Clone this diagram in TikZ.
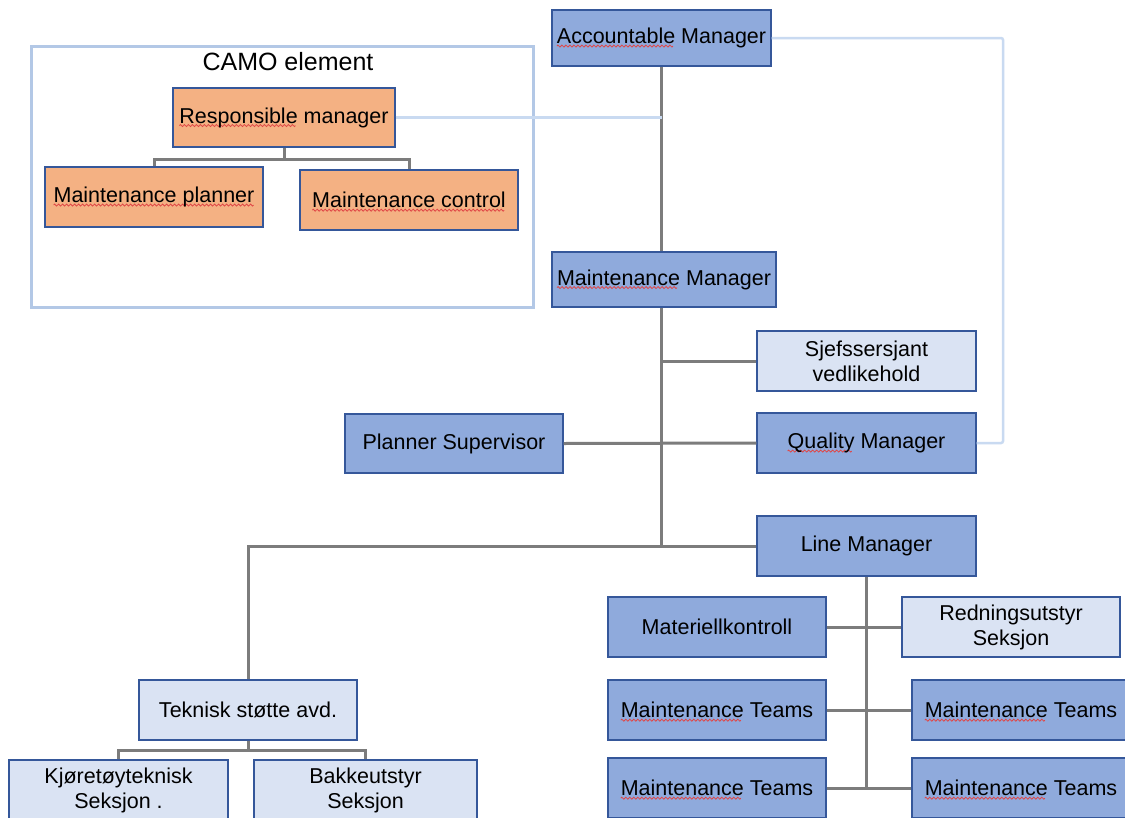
\documentclass[tikz,border=0pt]{standalone}
\usepackage{fontspec}
\setmainfont{Liberation Sans}
\usetikzlibrary{calc}

\definecolor{boxblue}{HTML}{8FAADC}
\definecolor{boxlight}{HTML}{DAE3F3}
\definecolor{boxorange}{HTML}{F4B183}
\definecolor{boxedge}{HTML}{35579A}
\definecolor{linkgray}{HTML}{7C7C7C}
\definecolor{linklight}{HTML}{C9DAF1}
\definecolor{camoedge}{HTML}{B3C8E6}
\definecolor{squigred}{HTML}{E04646}

% wavy spell-check underline
\newsavebox\wavebox
\newsavebox\wordbox
\newcommand\squig[1]{\sbox\wordbox{#1}\rlap{\raisebox{-3.5pt}[0pt][0pt]{\hbox to \wd\wordbox{\leaders\hbox{\usebox\wavebox}\hfill}}}\usebox\wordbox}

\begin{document}
\sbox\wavebox{\begin{pgfpicture}
  \pgfpathrectangle{\pgfpoint{0pt}{-1pt}}{\pgfpoint{4pt}{2pt}}
  \pgfusepath{use as bounding box}
  \pgfsetlinewidth{0.8pt}
  \pgfsetstrokecolor{squigred}
  \pgfpathmoveto{\pgfpoint{0pt}{0pt}}
  \pgfpathsine{\pgfpoint{1pt}{1pt}}
  \pgfpathcosine{\pgfpoint{1pt}{-1pt}}
  \pgfpathsine{\pgfpoint{1pt}{-1pt}}
  \pgfpathcosine{\pgfpoint{1pt}{1pt}}
  \pgfusepath{stroke}
\end{pgfpicture}}
\begin{tikzpicture}[x=1pt,y=-1pt,
  box/.style={rectangle, draw=boxedge, line width=1.3pt, inner sep=0pt, align=center,
    minimum width=218pt, minimum height=60pt, font=\fontsize{21.5}{25}\selectfont},
  darkbox/.style={box, fill=boxblue},
  lightbox/.style={box, fill=boxlight},
  camobox/.style={box, fill=boxorange},
  link/.style={draw=linkgray, line width=3pt},
  soft/.style={draw=linklight, line width=2.5pt}]
\useasboundingbox (0,0) rectangle (1125,817);
\clip (0,0) rectangle (1125,817);
\fill[white] (0,0) rectangle (1125,817);

% CAMO frame
\node[draw=camoedge, line width=3pt, minimum width=502pt, minimum height=261pt, inner sep=0pt] (camo) at (282,176.5) {};
\node[font=\fontsize{25}{28}\selectfont, inner sep=0pt] (camotitle) at (288,62) {CAMO element};

% boxes
\node[darkbox, minimum width=219pt, minimum height=56pt] (AM) at (661.5,38) {\squig{Accountable} Manager};
\node[darkbox, minimum width=224pt, minimum height=55pt] (MM) at (664,279.5) {\squig{Maintenance} Manager};
\node[camobox, minimum width=222pt, minimum height=59pt] (RM) at (284,117.5) {\squig{Responsible} manager};
\node[camobox] (MP) at (154,197) {\squig{Maintenance planner}};
\node[camobox] (MC) at (409,200) {\squig{Maintenance control}};
\node[lightbox, minimum width=219pt] (Sjef) at (866.5,361) {Sjefssersjant\\vedlikehold};
\node[darkbox, minimum width=219pt] (QM) at (866.5,443) {\squig{Quality} Manager};
\node[darkbox, minimum height=59pt] (PS) at (454,443.5) {Planner Supervisor};
\node[darkbox, minimum width=219pt] (LM) at (866.5,546) {Line Manager};
\node[darkbox] (Mat) at (717,627) {Materiellkontroll};
\node[lightbox] (Red) at (1011,627) {Redningsutstyr\\Seksjon};
\node[darkbox] (MT1L) at (717,710) {\squig{Maintenance} Teams};
\node[darkbox] (MT1R) at (1021,710) {\squig{Maintenance} Teams};
\node[darkbox] (MT2L) at (717,788) {\squig{Maintenance} Teams};
\node[darkbox] (MT2R) at (1021,788) {\squig{Maintenance} Teams};
\node[lightbox] (Tek) at (248,710) {Teknisk støtte avd.};
\node[lightbox, minimum width=219pt] (Kjo) at (118.5,790) {Kjøretøyteknisk\\Seksjon .};
\node[lightbox, minimum width=223pt] (Bak) at (365.5,790) {Bakkeutstyr\\Seksjon};

% main reporting lines
\draw[link] (AM.south) -- (AM.south |- MM.north);
\draw[link] (AM.south |- MM.south) -- (AM.south |- LM.west);
\draw[link] (LM.west) -| (Tek.north);
\draw[link] (Sjef.west) -- (Sjef.west -| AM.south);
\draw[link] (PS.east) -- (QM.west);

% CAMO tree
\coordinate (rmbus) at (284,159);
\draw[link] (RM.south) -- (rmbus);
\draw[link] (MP.north) |- (rmbus) -| (MC.north);

% technical support tree
\coordinate (tekbus) at (248,750);
\draw[link] (Tek.south) -- (tekbus);
\draw[link] (Kjo.north) |- (tekbus) -| (Bak.north);

% line manager tree
\coordinate (lmend) at (LM.south |- MT2L.east);
\draw[link] (LM.south) -- (lmend);
\draw[link] (Mat.east) -- (Red.west);
\draw[link] (MT1L.east) -- (MT1R.west);
\draw[link] (MT2L.east) -- (MT2R.west);

% light liaison lines
\coordinate (qmrail) at (1003,38);
\draw[soft] (RM.east) -- (RM.east -| AM.south);
\draw[soft, rounded corners=2pt] (AM.east) -| (qmrail |- QM.east) -- (QM.east);
\end{tikzpicture}
\end{document}
